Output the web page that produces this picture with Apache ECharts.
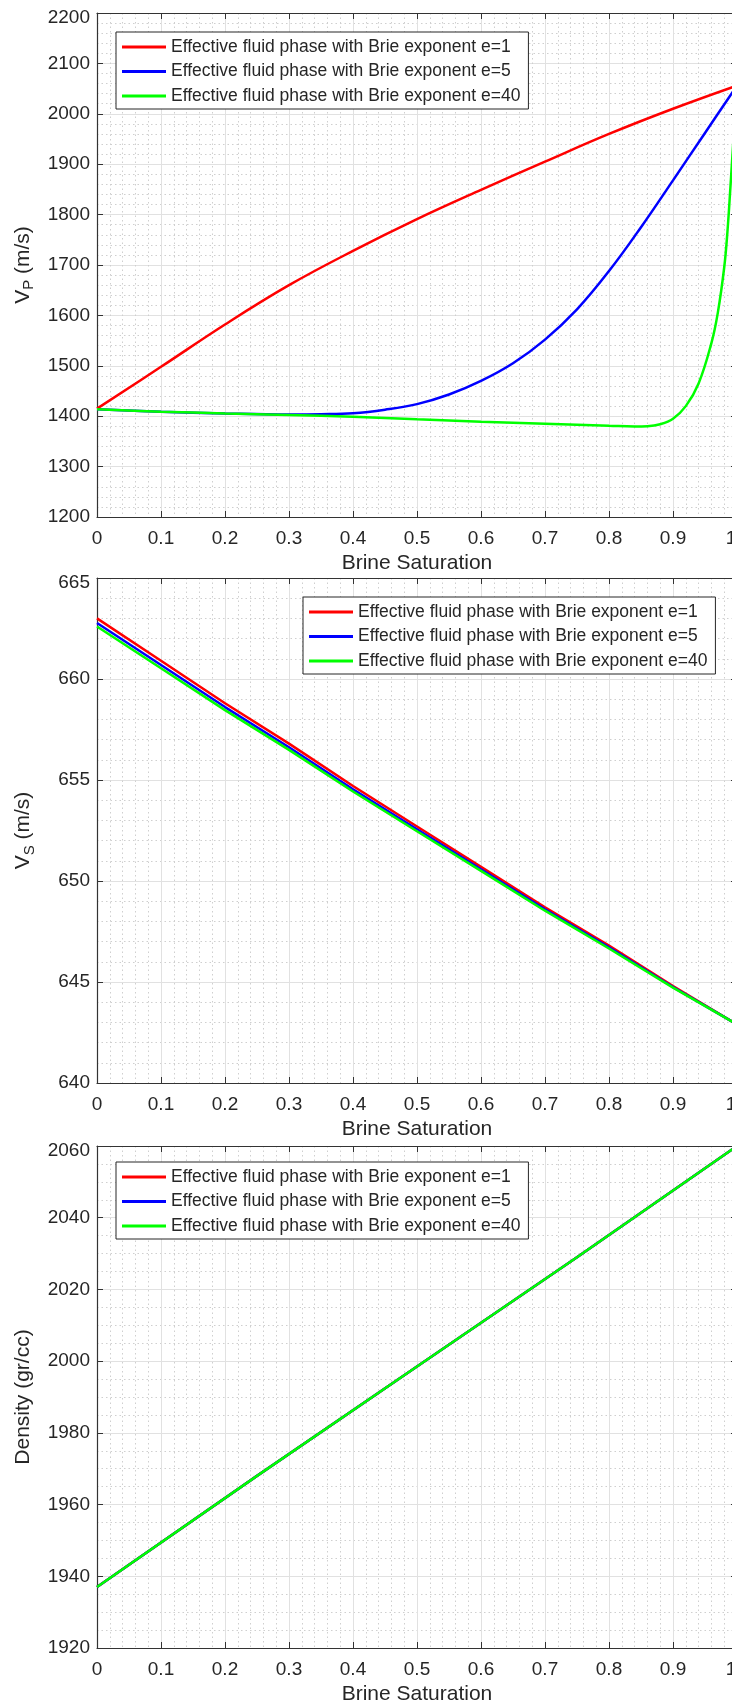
<!DOCTYPE html>
<html>
<head>
<meta charset="utf-8">
<script src="https://cdn.jsdelivr.net/npm/echarts@6/dist/echarts.min.js"></script>
<style>
  html, body { margin: 0; padding: 0; background: #fff; }
  #chart { width: 732px; height: 1708px; }
</style>
</head>
<body>
<div id="chart"></div>
<script>
// Brine saturation sweeps for the three Brie exponents
const seriesNames = [
  'Effective fluid phase with Brie exponent e=1',
  'Effective fluid phase with Brie exponent e=5',
  'Effective fluid phase with Brie exponent e=40'
];
const seriesColors = ['#ff0000', '#0000ff', '#00ff00'];

// P-wave velocity (m/s)
const vpE1Sw = [0, 0.1, 0.2, 0.3, 0.4, 0.5, 0.6, 0.7, 0.8, 0.9, 1.0];
const vpE1 = [1415, 1498, 1582, 1660, 1728, 1791, 1849, 1905, 1960, 2010, 2056];
const vpE5Sw = [0, 0.1, 0.2, 0.3, 0.35, 0.4, 0.45, 0.5, 0.55, 0.6, 0.65, 0.7, 0.75, 0.8, 0.85, 0.9, 0.95, 1.0];
const vpE5 = [1414, 1409, 1405.5, 1403.5, 1404, 1406, 1413, 1424, 1443, 1470, 1505, 1552, 1612, 1688, 1775, 1868, 1962, 2056];
const vpE40Sw = [0, 0.1, 0.2, 0.3, 0.4, 0.5, 0.6, 0.7, 0.8, 0.84, 0.86, 0.88, 0.9, 0.92, 0.94, 0.96, 0.97, 0.98, 0.985, 0.99, 0.995, 1.0];
const vpE40 = [1414, 1409, 1405.5, 1402.5, 1399, 1394, 1389, 1385, 1381, 1379.5, 1380, 1384, 1395, 1420, 1465, 1545, 1605, 1695, 1765, 1860, 1960, 2056];

// S-wave velocity (m/s)
const vsSw = [0, 0.1, 0.2, 0.3, 0.4, 0.5, 0.6, 0.7, 0.8, 0.9, 1.0];
const vsE1 = [663.0, 660.9, 658.8, 656.8, 654.7, 652.7, 650.7, 648.7, 646.8, 644.8, 642.9];
const vsE5 = [662.77, 660.69, 658.61, 656.62, 654.54, 652.56, 650.58, 648.6, 646.72, 644.75, 642.9];
const vsE40 = [662.6, 660.53, 658.46, 656.49, 654.43, 652.46, 650.5, 648.53, 646.66, 644.72, 642.9];

// Bulk density (gr/cc) - identical for every exponent
const rhoSw = [0, 0.25, 0.5, 0.75, 1.0];
const rhoE1 = [1937, 1968, 1998.5, 2029, 2060];
const rhoE5 = [1937, 1968, 1998.5, 2029, 2060];
const rhoE40 = [1937, 1968, 1998.5, 2029, 2060];

// Axis ranges and tick steps per panel
const xRange = { min: 0, max: 1, interval: 0.1 };
const vpRange = { min: 1200, max: 2200, interval: 100, minor: 5 };
const vsRange = { min: 640, max: 665, interval: 5, minor: 5 };
const rhoRange = { min: 1920, max: 2060, interval: 20, minor: 4 };

const FONT = '"Liberation Sans", Arial, Helvetica, sans-serif';
const INK = '#262626';
const FRAME = '#333333';

const panels = [
  { top: 13, height: 504, y: vpRange, smooth: 0.4,
    yName: '{v|V}{s|P}{v| (m/s)}',
    legend: { left: 116, top: 32 },
    data: [[vpE1Sw, vpE1], [vpE5Sw, vpE5], [vpE40Sw, vpE40]] },
  { top: 578, height: 505, y: vsRange, smooth: false,
    yName: '{v|V}{s|S}{v| (m/s)}',
    legend: { left: 303, top: 597 },
    data: [[vsSw, vsE1], [vsSw, vsE5], [vsSw, vsE40]] },
  { top: 1146, height: 502, y: rhoRange, smooth: false,
    yName: '{v|Density (gr/cc)}',
    legend: { left: 116, top: 1162 },
    data: [[rhoSw, rhoE1], [rhoSw, rhoE5], [rhoSw, rhoE40]] }
];

const pairs = (xs, ys) => xs.map((x, i) => [x, ys[i]]);

const grid = [], xAxis = [], yAxis = [], series = [], legend = [];

panels.forEach((p, gi) => {
  // the plot box runs past the right edge of the page
  grid.push({ left: 97, top: p.top, width: 640, height: p.height,
              containLabel: false, outerBoundsMode: 'none' });

  const frameLine = { show: true, onZero: false, lineStyle: { color: FRAME, width: 1.2 } };
  const tick = { show: true, inside: true, length: 6, lineStyle: { color: FRAME, width: 1 } };

  // bottom x axis with labels and grid
  xAxis.push({
    type: 'value', gridIndex: gi, position: 'bottom',
    min: xRange.min, max: xRange.max, interval: xRange.interval,
    name: 'Brine Saturation', nameLocation: 'middle', nameGap: 36,
    nameTextStyle: { fontSize: 21, color: INK, fontFamily: FONT },
    axisLine: frameLine, axisTick: tick,
    axisLabel: {
      fontSize: 19, color: INK, fontFamily: FONT, margin: 12,
      // last label sits against the page edge
      formatter: (v) => (v === xRange.max ? '{edge|' + v + '}' : String(v)),
      rich: { edge: { fontSize: 19, color: INK, fontFamily: FONT, padding: [0, 12, 0, 0] } }
    },
    splitLine: { show: true, lineStyle: { color: '#e1e1e1', width: 1 } },
    minorTick: { show: false, splitNumber: 5 },
    minorSplitLine: { show: true, lineStyle: { color: '#cfcfcf', width: 1, type: [1.5, 3] } }
  });
  // mirrored top x axis (box + ticks only)
  xAxis.push({
    type: 'value', gridIndex: gi, position: 'top',
    min: xRange.min, max: xRange.max, interval: xRange.interval,
    axisLine: frameLine, axisTick: tick,
    axisLabel: { show: false }, splitLine: { show: false }
  });

  const yr = p.y;
  yAxis.push({
    type: 'value', gridIndex: gi, position: 'left',
    min: yr.min, max: yr.max, interval: yr.interval,
    name: p.yName, nameLocation: 'middle', nameGap: 60, nameRotate: 90,
    nameTextStyle: {
      color: INK, fontFamily: FONT,
      rich: {
        v: { fontSize: 21, color: INK, fontFamily: FONT, lineHeight: 28 },
        s: { fontSize: 15, color: INK, fontFamily: FONT, lineHeight: 14, verticalAlign: 'bottom' }
      }
    },
    axisLine: frameLine, axisTick: tick,
    axisLabel: {
      fontSize: 19, color: INK, fontFamily: FONT, margin: 7,
      formatter: (v) => (v === yr.max ? '{top|' + v + '}' : String(v)),
      rich: { top: { fontSize: 19, color: INK, fontFamily: FONT, padding: [9, 0, 0, 0] } }
    },
    splitLine: { show: true, lineStyle: { color: '#e1e1e1', width: 1 } },
    minorTick: { show: false, splitNumber: yr.minor },
    minorSplitLine: { show: true, lineStyle: { color: '#cfcfcf', width: 1, type: [1.5, 3] } }
  });
  // mirrored right y axis
  yAxis.push({
    type: 'value', gridIndex: gi, position: 'right',
    min: yr.min, max: yr.max, interval: yr.interval,
    axisLine: frameLine, axisTick: tick,
    axisLabel: { show: false }, splitLine: { show: false }
  });

  p.data.forEach((d, si) => {
    series.push({
      type: 'line', name: seriesNames[si],
      xAxisIndex: gi * 2, yAxisIndex: gi * 2,
      data: pairs(d[0], d[1]),
      smooth: p.smooth,
      symbol: 'none', clip: true,
      lineStyle: { color: seriesColors[si], width: 2.5 },
      itemStyle: { color: seriesColors[si] },
      z: 3 + si
    });
  });

  legend.push({
    data: seriesNames, orient: 'vertical',
    left: p.legend.left, top: p.legend.top,
    icon: 'rect', itemWidth: 44, itemHeight: 3, itemGap: 0.5,
    padding: [3, 8, 1, 6],
    backgroundColor: '#ffffff', borderColor: INK, borderWidth: 1,
    selectedMode: false,
    textStyle: { fontSize: 17.5, color: INK, fontFamily: FONT, lineHeight: 24 },
    z: 10
  });
});

const chart = echarts.init(document.getElementById('chart'), null, { renderer: 'canvas' });
chart.setOption({
  animation: false,
  backgroundColor: '#ffffff',
  color: seriesColors,
  grid, xAxis, yAxis, series, legend
});
</script>
</body>
</html>
